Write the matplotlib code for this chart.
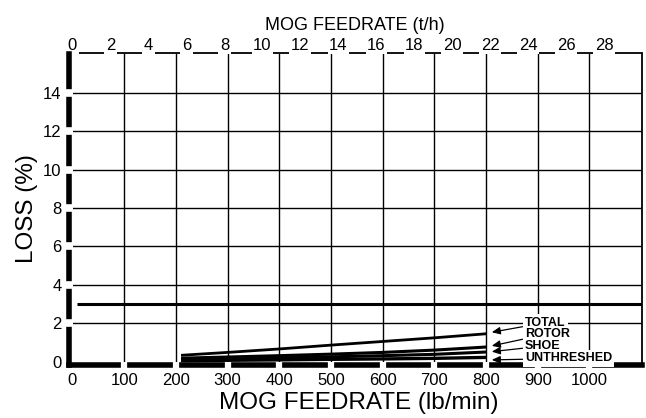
import matplotlib
matplotlib.use('Agg')
import matplotlib.pyplot as plt

plt.rcParams['font.family'] = ['Liberation Sans', 'DejaVu Sans']

# ---- data ----
feedrate_lbmin = [210, 300, 400, 500, 600, 700, 800]
loss_total = [0.33, 0.48, 0.66, 0.86, 1.05, 1.24, 1.45]
loss_rotor = [0.18, 0.24, 0.31, 0.39, 0.48, 0.60, 0.76]
loss_shoe = [0.10, 0.14, 0.19, 0.25, 0.31, 0.38, 0.50]
loss_unthreshed = [0.05, 0.07, 0.09, 0.12, 0.14, 0.17, 0.22]

ref_loss_level = 3.0
ref_loss_span = [8, 1101]

series_names = ['TOTAL', 'ROTOR', 'SHOE', 'UNTHRESHED']
label_y = [2.03, 1.44, 0.81, 0.17]
arrow_tip_y = [1.53, 0.82, 0.52, 0.09]
label_x = 875
arrow_tip_x = 811

x_ticks_lbmin = [0, 100, 200, 300, 400, 500, 600, 700, 800, 900, 1000]
y_ticks = [0, 2, 4, 6, 8, 10, 12, 14]
top_ticks_th = [0, 2, 4, 6, 8, 10, 12, 14, 16, 18, 20, 22, 24, 26, 28]
LB_PER_TONNE = 2204.62


def lbmin_to_th(x):
    return x * 60.0 / LB_PER_TONNE


def th_to_lbmin(t):
    return t * LB_PER_TONNE / 60.0


W, H = 646, 418
fig = plt.figure(figsize=(W / 100, H / 100), dpi=100)
ax = fig.add_axes([68.5 / W, (H - 364.5) / H, 573.2 / W, 311 / H])
ax.set_xlim(-7.7, 1101)
ax.set_ylim(-0.15, 16.05)

# spines
ax.spines['left'].set_linewidth(4.0)
ax.spines['bottom'].set_linewidth(4.0)
ax.spines['right'].set_linewidth(1.3)
ax.spines['top'].set_visible(False)
for s in ax.spines.values():
    s.set_zorder(2.4)

# ticks / grid
ax.set_xticks(x_ticks_lbmin)
ax.set_yticks(y_ticks)
ax.grid(True, color='black', linewidth=1.0)
ax.tick_params(axis='x', color='white', width=4.5, length=4.5,
               direction='inout', pad=3.8, labelsize=12)
ax.tick_params(axis='y', color='white', width=5.5, length=5.5,
               direction='inout', pad=2.2, labelsize=12)
ax.xaxis.set_zorder(2.6)
ax.yaxis.set_zorder(2.6)
xt0 = ax.xaxis.get_major_ticks()[0]
xt0.tick1line.set_visible(False)
xt0.gridline.set_visible(False)
yt0 = ax.yaxis.get_major_ticks()[0]
yt0.tick1line.set_visible(False)
yt0.gridline.set_visible(False)

# reference 3 % line
ax.plot(ref_loss_span, [ref_loss_level, ref_loss_level], color='black',
        linewidth=2.2, solid_capstyle='butt', zorder=2)

# loss curves
for ys, lw in [(loss_total, 2.0), (loss_rotor, 2.2), (loss_shoe, 2.2),
               (loss_unthreshed, 2.4)]:
    ax.plot(feedrate_lbmin, ys, color='black', linewidth=lw,
            solid_capstyle='butt', zorder=2)

# labels with arrows
for name, ty, ay in zip(series_names, label_y, arrow_tip_y):
    ax.annotate(name, xy=(arrow_tip_x, ay), xytext=(label_x, ty),
                ha='left', va='center', fontsize=9, fontweight='bold',
                bbox=dict(facecolor='white', edgecolor='none', pad=1.6),
                arrowprops=dict(arrowstyle='-|>,head_length=0.5,head_width=0.22',
                                color='black', lw=0.9, shrinkA=0, shrinkB=0,
                                mutation_scale=10),
                zorder=5)

# axis labels
ax.set_xlabel('MOG FEEDRATE (lb/min)', fontsize=17.5)
ax.xaxis.set_label_coords(0.506, -0.090, transform=ax.transAxes)
ax.set_ylabel('LOSS (%)', fontsize=17.5)
ax.yaxis.set_label_coords(-0.0525, 0.5, transform=ax.transAxes)

# top secondary axis in t/h
sec = ax.secondary_xaxis('top', functions=(lbmin_to_th, th_to_lbmin))
sec.set_xticks(top_ticks_th)
sec.tick_params(length=0, pad=0, labelsize=12)
sec.spines['top'].set_linewidth(1.3)
sec.spines['bottom'].set_visible(False)
sec.xaxis.set_zorder(3)
for lbl in sec.get_xticklabels():
    lbl.set_bbox(dict(facecolor='white', edgecolor='none', pad=1.2))
sec.set_xlabel('MOG FEEDRATE (t/h)', fontsize=13)
sec.xaxis.set_label_coords(0.5, 1.074, transform=ax.transAxes)

fig.savefig('out.png', dpi=100)
